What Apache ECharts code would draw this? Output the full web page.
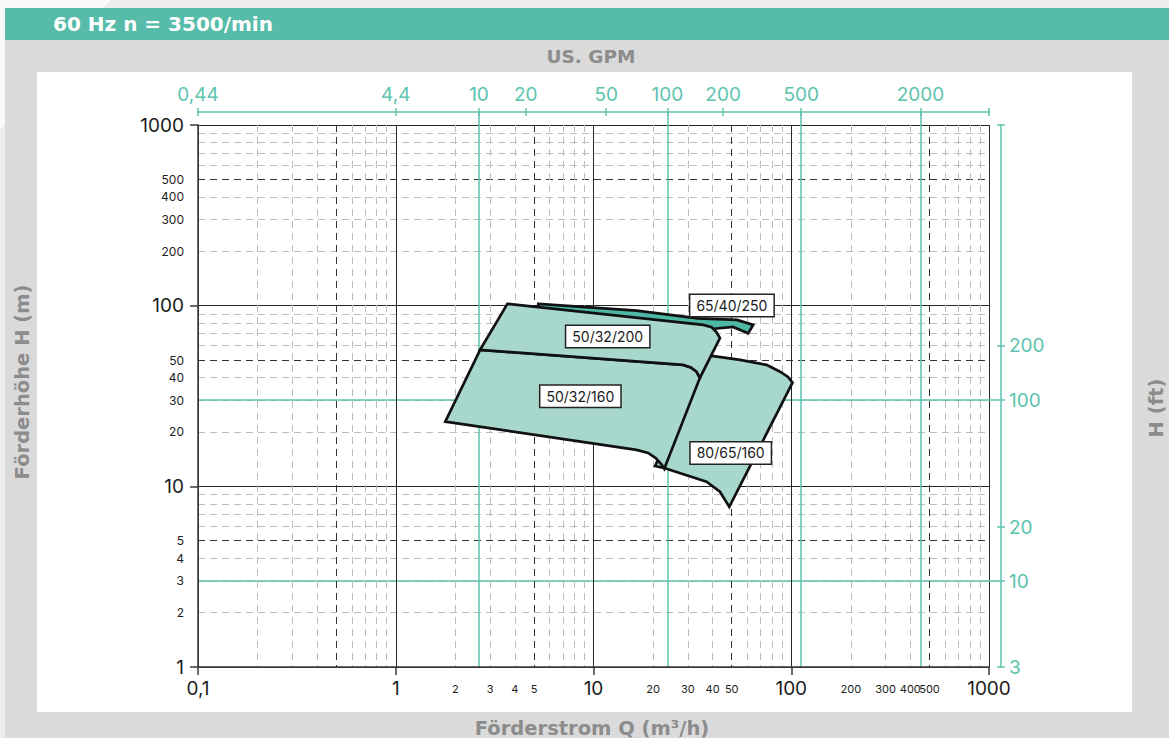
<!DOCTYPE html>
<html>
<head>
<meta charset="utf-8">
<title>60 Hz n = 3500/min</title>
<script src="https://cdn.jsdelivr.net/npm/echarts@6/dist/echarts.min.js"></script>
<style>
  html, body { margin: 0; padding: 0; width: 1169px; height: 738px; overflow: hidden; background: #ececec; }
  #deco  { position: absolute; left: 0; top: 0; width: 110px; height: 130px; background: #fafafa; clip-path: polygon(0 0, 100% 0, 0 100%); }
  #band  { position: absolute; left: 5px; top: 8px; width: 1164px; height: 32px; background: #56bba9; }
  #frame { position: absolute; left: 5px; top: 40px; width: 1164px; height: 698px; background: #dadada; }
  #panel { position: absolute; left: 37px; top: 72px; width: 1095px; height: 640px; background: #ffffff; }
  #chart { position: absolute; left: 0; top: 0; width: 1169px; height: 738px; }
</style>
</head>
<body>
<div id="deco"></div>
<div id="band"></div>
<div id="frame"></div>
<div id="panel"></div>
<div id="chart"></div>
<script>
// ---- pump operating ranges: [Q (m³/h), H (m)] outline points ----
const pumpNames = ['80/65/160', '50/32/160', '65/40/250', '50/32/200'];

const area_80_65_160 = [
  [36.6, 53.4], [39.6, 52.7], [55.1, 50.1], [75.0, 47.0], [87.8, 43.1], [96.3, 40.3],
  [101.5, 37.5], [48.6, 7.70], [43.6, 9.33], [37.3, 10.6], [23.0, 12.6], [20.5, 12.95]
];
const area_50_32_160 = [
  [2.67, 56.9], [28.4, 47.0], [31.1, 45.5], [33.2, 43.1], [34.5, 39.8], [22.8, 12.5],
  [22.2, 13.1], [20.7, 14.3], [18.9, 15.3], [16.5, 15.9], [1.78, 22.8]
];
const area_65_40_250 = [
  [5.26, 102.3], [16.5, 93.9], [33.7, 85.0], [53.1, 83.4], [64.2, 78.3], [60.6, 70.4],
  [50.7, 76.3], [39.7, 74.3], [5.69, 94.8], [5.26, 97.9]
];
const area_50_32_200 = [
  [3.67, 102.3], [35.9, 78.3], [39.6, 76.0], [41.8, 71.5], [43.6, 66.1], [34.5, 39.8],
  [33.2, 43.1], [31.1, 45.5], [28.4, 47.0], [2.67, 56.9]
];
const pumpAreas = [area_80_65_160, area_50_32_160, area_65_40_250, area_50_32_200];
const pumpFills = ['#a8d8cd', '#a8d8cd', '#4db8a4', '#a8d8cd'];

// label anchor of each range
const labelQ = [49.4, 8.58, 50.1, 11.8];
const labelH = [15.3, 31.5, 100.1, 67.4];

// ---- flow axis Q (m³/h), bottom ----
const qMajorTicks  = [0.1, 1, 10, 100, 1000];
const qMajorLabels = ['0,1', '1', '10', '100', '1000'];
const qMinorTicks  = [2, 3, 4, 5, 20, 30, 40, 50, 200, 300, 400, 500];
const qGrayGrid = [0.2, 0.3, 0.4, 0.6, 0.7, 0.8, 0.9, 2, 3, 4, 6, 7, 8, 9,
                   20, 30, 40, 60, 70, 80, 90, 200, 300, 400, 600, 700, 800, 900];
const qDarkGrid = [0.5, 5, 50, 500];

// ---- head axis H (m), left ----
const hMajorTicks  = [1, 10, 100, 1000];
const hMajorLabels = ['1', '10', '100', '1000'];
const hMinorTicks  = [2, 3, 4, 5, 20, 30, 40, 50, 200, 300, 400, 500];
const hGrayGrid = [2, 3, 4, 6, 7, 8, 9, 20, 30, 40, 60, 70, 80, 90, 200, 300, 400, 600, 700, 800, 900];
const hDarkGrid = [5, 50, 500];

// ---- US GPM axis, top (0.1 m³/h = 0.44 GPM) ----
const gpmTickPos    = [0.44, 4.4, 11.6, 20, 51, 104, 199, 494, 1980];
const gpmTickLabels = ['0,44', '4,4', '10', '20', '50', '100', '200', '500', '2000'];
const gpmTickEnds   = [0.44, 4.4, 11.6, 20, 51, 104, 199, 494, 1980, 4400];
const gpmLinePos    = [11.6, 104, 494, 1980];

// ---- head axis H (ft), right (1 m = 3.28 ft) ----
const ftTickPos    = [3.28, 9.8, 19.5, 98.4, 198];
const ftTickLabels = ['3', '10', '20', '100', '200'];
const ftTickEnds   = [3.28, 9.8, 19.5, 98.4, 198, 3280];
const ftShortTicks = [3.28, 19.5, 198, 3280];
const ftLinePos    = [9.8, 98.4];

const FONT = 'Inter, "Noto Sans", sans-serif';
const WIDE_BOLD = '"DejaVu Sans", Inter, sans-serif';
const TEAL = '#5cc3ae';
const INK = '#1c1c1c';
const TITLE_GREY = '#8c8c8c';

function lookup(values, labels) {
  return function (v) {
    for (let i = 0; i < values.length; i++) {
      if (Math.abs(Math.log10(v) - Math.log10(values[i])) < 1e-4) return labels[i];
    }
    return '';
  };
}
const plain = v => String(+v.toPrecision(3));

// the small Q labels sit close together near 300…500, so they are spread
// over two label rows (same position) to keep every one of them visible
const qMinorEven = qMinorTicks.filter((v, i) => i % 2 === 0);
const qMinorOdd  = qMinorTicks.filter((v, i) => i % 2 === 1);

function labelStyle(values, formatter, size, color, margin) {
  return {
    show: true, customValues: values, formatter: formatter,
    fontSize: size, color: color, margin: margin, fontFamily: FONT,
    hideOverlap: false, showMinLabel: true, showMaxLabel: true
  };
}

function gridAxis(extra) {
  // helper for the extra axes that only carry grid lines / ticks / labels
  return Object.assign({
    type: 'log', logBase: 10, gridIndex: 0,
    axisLine: { show: false, onZero: false },
    axisTick: { show: false },
    axisLabel: { show: false },
    splitLine: { show: false },
    silent: true
  }, extra);
}

const chart = echarts.init(document.getElementById('chart'), null, { renderer: 'svg' });

const option = {
  animation: false,
  backgroundColor: 'transparent',
  textStyle: { fontFamily: FONT },
  grid: { left: 198, top: 125, right: 180, bottom: 71, containLabel: false, outerBoundsMode: 'none' },
  xAxis: [
    // Q main: decades
    gridAxis({
      position: 'bottom', min: 0.1, max: 1000,
      axisLine: { show: true, onZero: false, lineStyle: { color: '#3a3a3a', width: 1.5 } },
      axisTick: { show: true, customValues: qMajorTicks, length: 8, lineStyle: { color: '#3a3a3a', width: 1.5 } },
      axisLabel: labelStyle(qMajorTicks, lookup(qMajorTicks, qMajorLabels), 19, INK, 12),
      splitLine: { show: true, lineStyle: { color: '#262626', width: 1 } }
    }),
    // Q small labels (two interleaved rows)
    gridAxis({
      position: 'bottom', min: 0.1, max: 1000,
      axisLabel: labelStyle(qMinorEven, plain, 11, INK, 16)
    }),
    gridAxis({
      position: 'bottom', min: 0.1, max: 1000,
      axisLabel: labelStyle(qMinorOdd, plain, 11, INK, 16)
    }),
    // Q light dashed grid
    gridAxis({
      position: 'bottom', min: 0.1, max: 1000,
      axisTick: { show: false, customValues: qGrayGrid },
      splitLine: { show: true, lineStyle: { color: '#bdbdbd', width: 1, type: [7, 5] } }
    }),
    // Q dark dashed grid
    gridAxis({
      position: 'bottom', min: 0.1, max: 1000,
      axisTick: { show: false, customValues: qDarkGrid },
      splitLine: { show: true, lineStyle: { color: '#333333', width: 1, type: [7, 5] } }
    }),
    // US GPM: line, outer ticks, labels
    gridAxis({
      position: 'top', offset: 13, min: 0.44, max: 4400,
      axisLine: { show: true, onZero: false, lineStyle: { color: TEAL, width: 1.5 } },
      axisTick: { show: true, customValues: gpmTickEnds, length: 4, lineStyle: { color: TEAL, width: 1.5 } },
      axisLabel: labelStyle(gpmTickPos, lookup(gpmTickPos, gpmTickLabels), 19, TEAL, 8)
    }),
    // US GPM: inner ticks
    gridAxis({
      position: 'top', offset: 13, min: 0.44, max: 4400,
      axisTick: { show: true, inside: true, customValues: gpmTickEnds, length: 4, lineStyle: { color: TEAL, width: 1.5 } }
    }),
    // US GPM: full height guide lines
    gridAxis({
      position: 'top', offset: 13, min: 0.44, max: 4400,
      axisTick: { show: true, inside: true, customValues: gpmLinePos, length: 13, lineStyle: { color: TEAL, width: 1.5 } },
      splitLine: { show: true, lineStyle: { color: TEAL, width: 1.5 } }
    })
  ],
  yAxis: [
    // H main: decades
    gridAxis({
      position: 'left', min: 1, max: 1000,
      axisLine: { show: true, onZero: false, lineStyle: { color: '#3a3a3a', width: 1.5 } },
      axisTick: { show: true, customValues: hMajorTicks, length: 8, lineStyle: { color: '#3a3a3a', width: 1.5 } },
      axisLabel: labelStyle(hMajorTicks, lookup(hMajorTicks, hMajorLabels), 19, INK, 14),
      splitLine: { show: true, lineStyle: { color: '#262626', width: 1 } }
    }),
    // H small labels
    gridAxis({
      position: 'left', min: 1, max: 1000,
      axisLabel: labelStyle(hMinorTicks, plain, 12, INK, 14)
    }),
    // H light dashed grid
    gridAxis({
      position: 'left', min: 1, max: 1000,
      axisTick: { show: false, customValues: hGrayGrid },
      splitLine: { show: true, lineStyle: { color: '#bdbdbd', width: 1, type: [7, 5] } }
    }),
    // H dark dashed grid
    gridAxis({
      position: 'left', min: 1, max: 1000,
      axisTick: { show: false, customValues: hDarkGrid },
      splitLine: { show: true, lineStyle: { color: '#333333', width: 1, type: [7, 5] } }
    }),
    // H (ft): line, outer ticks, labels
    gridAxis({
      position: 'right', offset: 12, min: 3.28, max: 3280,
      axisLine: { show: true, onZero: false, lineStyle: { color: TEAL, width: 1.5 } },
      axisTick: { show: true, customValues: ftTickEnds, length: 4, lineStyle: { color: TEAL, width: 1.5 } },
      axisLabel: labelStyle(ftTickPos, lookup(ftTickPos, ftTickLabels), 19, TEAL, 8)
    }),
    // H (ft): inner ticks
    gridAxis({
      position: 'right', offset: 12, min: 3.28, max: 3280,
      axisTick: { show: true, inside: true, customValues: ftShortTicks, length: 4, lineStyle: { color: TEAL, width: 1.5 } }
    }),
    // H (ft): full width guide lines
    gridAxis({
      position: 'right', offset: 12, min: 3.28, max: 3280,
      axisTick: { show: true, inside: true, customValues: ftLinePos, length: 12, lineStyle: { color: TEAL, width: 1.5 } },
      splitLine: { show: true, lineStyle: { color: TEAL, width: 1.5 } }
    })
  ],
  series: [
    {
      name: 'ranges',
      type: 'custom',
      xAxisIndex: 0, yAxisIndex: 0,
      silent: true,
      clip: false,
      z: 5,
      data: pumpNames.map((n, i) => [labelQ[i], labelH[i], i]),
      encode: { x: 0, y: 1 },
      renderItem: function (params, api) {
        const i = params.dataIndex;
        const pts = pumpAreas[i].map(p => api.coord(p));
        return {
          type: 'polygon',
          z2: i,
          shape: { points: pts },
          style: { fill: pumpFills[i], stroke: '#111111', lineWidth: 2.7, lineJoin: 'miter' }
        };
      }
    },
    {
      name: 'labels',
      type: 'custom',
      xAxisIndex: 0, yAxisIndex: 0,
      silent: true,
      clip: false,
      z: 6,
      data: pumpNames.map((n, i) => [labelQ[i], labelH[i], i]),
      encode: { x: 0, y: 1 },
      renderItem: function (params, api) {
        const c = api.coord([api.value(0), api.value(1)]);
        return {
          type: 'text',
          x: c[0], y: c[1],
          style: {
            text: pumpNames[params.dataIndex],
            align: 'center', verticalAlign: 'middle',
            fontSize: 14, fontFamily: FONT, fill: '#1a1a1a',
            backgroundColor: '#ffffff', borderColor: '#222222', borderWidth: 1.5,
            padding: [4, 6, 3, 6]
          }
        };
      }
    }
  ],
  graphic: [
    { type: 'text', x: 53, y: 24, z: 10,
      style: { text: '60 Hz n = 3500/min', fill: '#ffffff', fontSize: 20, fontWeight: 'bold', fontFamily: WIDE_BOLD, verticalAlign: 'middle' } },
    { type: 'text', x: 591, y: 56, z: 10,
      style: { text: 'US. GPM', fill: TITLE_GREY, fontSize: 18.5, fontWeight: 'bold', fontFamily: WIDE_BOLD, align: 'center', verticalAlign: 'middle' } },
    { type: 'text', x: 592, y: 728, z: 10,
      style: { text: 'Förderstrom Q (m³/h)', fill: TITLE_GREY, fontSize: 19.5, fontWeight: 'bold', fontFamily: WIDE_BOLD, align: 'center', verticalAlign: 'middle' } },
    { type: 'text', x: 22, y: 382, rotation: Math.PI / 2, z: 10,
      style: { text: 'Förderhöhe H (m)', fill: TITLE_GREY, fontSize: 19.5, fontWeight: 'bold', fontFamily: WIDE_BOLD, align: 'center', verticalAlign: 'middle' } },
    { type: 'text', x: 1156, y: 408, rotation: Math.PI / 2, z: 10,
      style: { text: 'H (ft)', fill: TITLE_GREY, fontSize: 19.5, fontWeight: 'bold', fontFamily: WIDE_BOLD, align: 'center', verticalAlign: 'middle' } }
  ]
};

chart.setOption(option);
</script>
</body>
</html>
